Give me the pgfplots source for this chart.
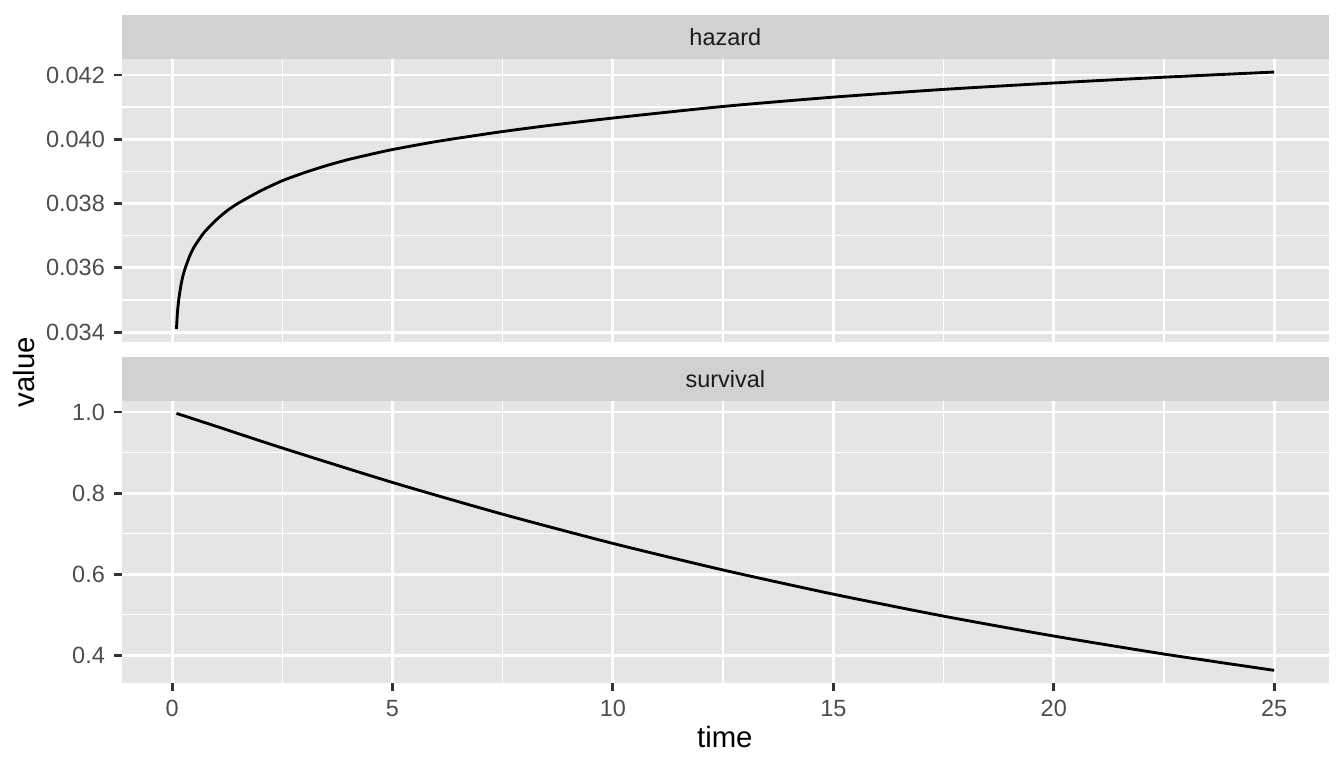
\documentclass[border=0pt]{standalone}
\usepackage{fontspec}
\setmainfont{Liberation Sans}
\usepackage{pgfplots}
\usepackage{pgfplotstable}
\pgfplotsset{compat=1.18}
\definecolor{panelbg}{HTML}{E5E5E5}
\definecolor{stripbg}{HTML}{D1D1D1}
\definecolor{ticklab}{HTML}{4D4D4D}
\definecolor{tickcol}{HTML}{333333}
\definecolor{striptext}{HTML}{1A1A1A}

\pgfplotstableread{
t h
0.10 0.03410
0.12 0.03458
0.15 0.03500
0.20 0.03545
0.25 0.03577
0.30 0.03600
0.40 0.03637
0.50 0.03665
0.67 0.03700
0.75 0.03714
1.00 0.03749
1.25 0.03778
1.50 0.03801
2.00 0.03839
2.50 0.03871
3.00 0.03896
3.50 0.03918
4.00 0.03937
4.50 0.03953
5.00 0.03968
6.00 0.03993
7.00 0.04014
7.50 0.04024
8.50 0.04042
10.0 0.04066
12.5 0.04102
15.0 0.04131
17.5 0.04155
20.0 0.04175
22.5 0.04193
25.0 0.04209
}\hazard

\pgfplotstableread{
t s
0.1 0.9967
1.0 0.9648
2.5 0.9113
5.0 0.8263
7.5 0.7479
10.0 0.6759
12.5 0.6103
15.0 0.5507
17.5 0.4965
20.0 0.4474
22.5 0.4030
25.0 0.3628
}\survival

\pgfplotsset{
 facet/.style={
  scale only axis, width=452.8pt, height=106pt,
  xmin=-1.145, xmax=26.245,
  axis line style={draw=none},
  axis background/.style={fill=panelbg},
  grid=both,
  major grid style={white, line width=1.07pt},
  minor grid style={white, line width=0.53pt},
  xtick={0,5,10,15,20,25},
  minor xtick={2.5,7.5,12.5,17.5,22.5},
  tick align=outside, tick pos=left,
  major tick length=2.75pt, minor tick length=0pt,
  major tick style={tickcol, line width=1.07pt},
  tick label style={font=\fontsize{8.8}{10}\selectfont, text=ticklab},
  /pgf/number format/assume math mode=true,
  scaled ticks=false,
  anchor=south west,
 }
}

\begin{document}
\begin{tikzpicture}
\useasboundingbox[fill=white] (0,0) rectangle (504pt,288pt);

\begin{axis}[facet,
  at={(45.6pt,159.8pt)},
  ymin=0.0337, ymax=0.04249,
  ytick={0.034,0.036,0.038,0.040,0.042},
  minor ytick={0.035,0.037,0.039,0.041},
  yticklabel style={/pgf/number format/fixed, /pgf/number format/fixed zerofill, /pgf/number format/precision=3},
  xticklabel={},
  xtick style={draw=none},
]
\addplot[black, line width=1.07pt, mark=none, smooth, tension=0.4] table[x=t, y=h] {\hazard};
\end{axis}

\begin{axis}[facet,
  at={(45.6pt,31.8pt)},
  ymin=0.3311, ymax=1.0284,
  ytick={0.4,0.6,0.8,1.0},
  minor ytick={0.5,0.7,0.9},
  yticklabel style={/pgf/number format/fixed, /pgf/number format/fixed zerofill, /pgf/number format/precision=1},
]
\addplot[black, line width=1.07pt, mark=none, smooth, tension=0.4] table[x=t, y=s] {\survival};
\end{axis}

\fill[stripbg] (45.6pt,265.8pt) rectangle (498.4pt,282.4pt);
\fill[stripbg] (45.6pt,137.8pt) rectangle (498.4pt,154.3pt);
\node[anchor=base, inner sep=0pt, text=striptext, font=\fontsize{8.8}{10}\selectfont] at (272pt,270.75pt) {hazard};
\node[anchor=base, inner sep=0pt, text=striptext, font=\fontsize{8.8}{10}\selectfont] at (272pt,142.6pt) {survival};

\node[anchor=base, inner sep=0pt, font=\fontsize{11}{13}\selectfont] at (271.8pt,7.8pt) {time};
\node[anchor=base, rotate=90, inner sep=0pt, font=\fontsize{11}{13}\selectfont] at (13.1pt,148.4pt) {value};
\end{tikzpicture}
\end{document}
